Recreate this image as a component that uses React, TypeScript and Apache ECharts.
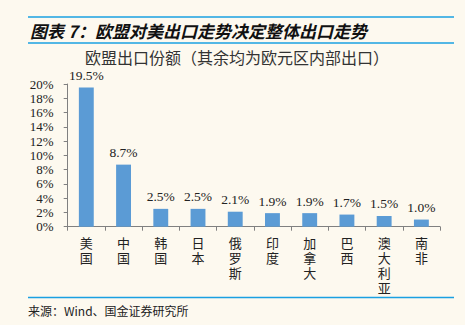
import React, { useEffect, useRef } from "react";
import * as echarts from "echarts";

const categories = ["美国", "中国", "韩国", "日本", "俄罗斯", "印度", "加拿大", "巴西", "澳大利亚", "南非"];
const shareValues = [19.5, 8.7, 2.5, 2.5, 2.1, 1.9, 1.9, 1.7, 1.5, 1.0];
const titleText = "图表 7：欧盟对美出口走势决定整体出口走势";
const subtitleText = "欧盟出口份额（其余均为欧元区内部出口）";
const sourceText = "来源：Wind、国金证券研究所";

export default function App() {
  const ref = useRef<HTMLDivElement>(null);
  useEffect(() => {
    if (!ref.current) return;
    const chart = echarts.init(ref.current, undefined, { renderer: "svg" });
    const lineColor = "#1AA0E2";
    chart.setOption({
      animation: false,
      backgroundColor: "#FDF9EF",
      graphic: [
        { type: "line", shape: { x1: 28, y1: 17, x2: 454, y2: 17 }, style: { stroke: lineColor, lineWidth: 1.5 } },
        { type: "line", shape: { x1: 28, y1: 43, x2: 454, y2: 43 }, style: { stroke: lineColor, lineWidth: 1.5 } },
        { type: "line", shape: { x1: 28, y1: 297.5, x2: 454, y2: 297.5 }, style: { stroke: lineColor, lineWidth: 1.5 } },
        {
          type: "text", x: 30, y: 30,
          style: { text: titleText, fill: "#111", font: "italic bold 17px 'Noto Sans CJK SC'", textVerticalAlign: "middle" },
        },
        {
          type: "text", x: 237, y: 57,
          style: { text: subtitleText, fill: "#333", font: "16px 'Noto Sans CJK SC'", textAlign: "center", textVerticalAlign: "middle" },
        },
        {
          type: "text", x: 28, y: 310,
          style: { text: sourceText, fill: "#222", font: "12px 'Noto Sans CJK SC'", textVerticalAlign: "middle" },
        },
      ],
      grid: { left: 67.7, right: 25, top: 84, bottom: 98.3, containLabel: false },
      xAxis: {
        type: "category",
        data: categories,
        axisLine: { lineStyle: { color: "#808080", width: 1 } },
        axisTick: { show: true, length: 4, lineStyle: { color: "#808080" } },
        axisLabel: {
          margin: 8,
          color: "#222",
          fontSize: 13,
          lineHeight: 15,
          fontFamily: "'Noto Sans CJK SC'",
          interval: 0,
          formatter: (v: string) => v.split("").join("\n"),
        },
      },
      yAxis: {
        type: "value",
        min: 0,
        max: 20,
        interval: 2,
        splitLine: { show: false },
        axisLine: { show: true, lineStyle: { color: "#808080", width: 1 } },
        axisTick: { show: true, length: 4, lineStyle: { color: "#808080" } },
        axisLabel: {
          margin: 14,
          color: "#222",
          fontSize: 13,
          fontFamily: "'Liberation Serif'",
          formatter: (v: number) => v + "%",
        },
      },
      series: [
        {
          type: "bar",
          data: shareValues,
          barWidth: "40%",
          itemStyle: { color: "#5B9BD5" },
          label: {
            show: true,
            position: "top",
            distance: 5,
            color: "#222",
            fontSize: 13.5,
            fontFamily: "'Liberation Serif'",
            formatter: (p: any) => p.value.toFixed(1) + "%",
          },
        },
      ],
    });
    return () => chart.dispose();
  }, []);
  return <div ref={ref} style={{ position: "fixed", left: 0, top: 0, width: 465, height: 325 }} />;
}
